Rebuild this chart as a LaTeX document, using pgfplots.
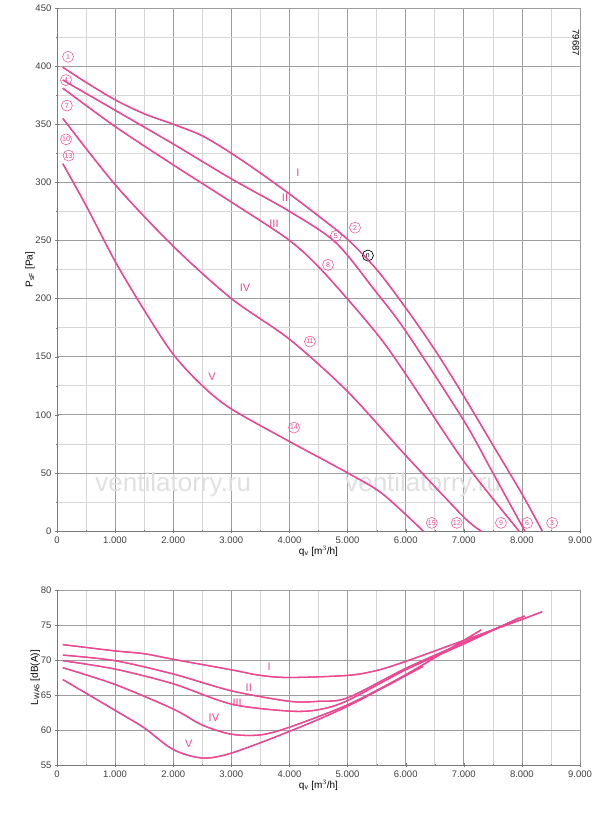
\documentclass[border=0pt]{standalone}
\usepackage{pgfplots}
\pgfplotsset{compat=1.18}
\usepackage{fontspec}
\setmainfont{Liberation Sans}
\definecolor{pk}{RGB}{236,72,145}
\definecolor{gr}{RGB}{175,175,175}
\begin{document}
\begin{tikzpicture}
\useasboundingbox (-57pt,-285pt) rectangle (543pt,531pt);
\pgfplotsset{every axis/.style={scale only axis, width=523pt, xmin=0,xmax=9000,
  axis lines=left, axis line style={-,draw=gr!70!black}, tick style={draw=gr!70!black},
  xtick={0,1000,...,9000}, minor xtick={500,1500,...,8500},
  grid=both, major grid style={gr!90!black,line width=0.7pt}, minor grid style={gr!50,line width=0.6pt},
  /pgf/number format/.cd,1000 sep={.},assume math mode=true,
  },
  every tick label/.style={font=\fontsize{9.5}{10}\selectfont, text=black!75},
  every axis label/.style={font=\fontsize{10}{10}\selectfont}}
\begin{axis}[at={(0pt,0pt)},anchor=south west,height=523pt,ymin=0,ymax=450,
  ytick={0,50,...,450}, minor ytick={25,75,...,425},
  xlabel={q$_\mathrm{v}$ [m$^3$/h]}, ylabel={P$_{\mathrm{sF}}$ [Pa]},
  xlabel style={yshift=4pt}, ylabel style={yshift=-6pt}]
\node[text=black!12,font=\fontsize{26}{26}\selectfont] at (axis cs:2000,40) {ventilatorry.ru};
\node[text=black!12,font=\fontsize{26}{26}\selectfont] at (axis cs:6300,40) {ventilatorry.ru};
\begin{scope}[every plot/.style={pk,line width=1.3pt,smooth,no marks}]
\addplot coordinates {(100,399)(500,386)(1000,371)(1500,359)(2000,350)(2500,340)(3000,325)(3500,308)(4000,290)(4500,271)(5000,251)(5500,225)(6000,192)(6500,156)(7000,116)(7500,74)(8000,32)(8350,0)};
\addplot coordinates {(100,388)(1000,362)(2000,333)(3000,303)(4000,275)(4800,248)(5500,205)(6000,172)(7000,95)(7500,50)(8050,0)};
\addplot coordinates {(100,381)(1000,348)(2000,315)(3000,283)(4000,250)(4600,222)(5500,170)(6000,135)(7000,60)(7950,0)};
\addplot coordinates {(100,355)(1000,298)(2000,245)(3000,200)(4000,165)(5000,120)(6000,65)(7000,12)(7300,0)};
\addplot coordinates {(100,316)(500,280)(1000,232)(1500,190)(2000,152)(2500,125)(3000,105)(4000,77)(5000,50)(5600,32)(6300,0)};
\end{scope}
\begin{scope}[every node/.style={text=pk,font=\fontsize{11}{11}\selectfont}]
\node at (axis cs:4147,308){I};
\node at (axis cs:3924,287){II};
\node at (axis cs:3734,264){III};
\node at (axis cs:3236,209){IV};
\node at (axis cs:2667,133){V};
\end{scope}
\begin{scope}[every node/.style={draw=pk,text=pk,circle,inner sep=0.3pt,minimum size=11pt,line width=0.5pt,font=\fontsize{7}{7}\selectfont}]
\node at (axis cs:190,408){1};
\node at (axis cs:155,388){4};
\node at (axis cs:170,366){7};
\node at (axis cs:155,337){10};
\node at (axis cs:200,323){13};
\node at (axis cs:5128,261){2};
\node at (axis cs:4800,254){5};
\node at (axis cs:4664,229){8};
\node at (axis cs:4353,163){11};
\node at (axis cs:4079,89){14};
\node at (axis cs:6450,7){15};
\node at (axis cs:6880,7){12};
\node at (axis cs:7640,7){9};
\node at (axis cs:8090,7){6};
\node at (axis cs:8520,7){3};
\node[draw=black,text=black,line width=0.7pt] at (axis cs:5350,237){n};
\end{scope}
\node[rotate=-90,font=\fontsize{9.5}{9}\selectfont] at (axis cs:8930,420){79687};
\end{axis}
\begin{axis}[at={(0pt,-234pt)},anchor=south west,height=175pt,ymin=55,ymax=80,
  ytick={55,60,...,80}, minor ytick={},
  xlabel={q$_\mathrm{v}$ [m$^3$/h]}, ylabel={L$_{\mathrm{WA5}}$ [dB(A)]},
  xlabel style={yshift=4pt}, ylabel style={yshift=-6pt}]
\begin{scope}[every plot/.style={pk,line width=1.3pt,smooth,no marks}]
\addplot coordinates {(100,72.2)(1000,71.3)(1500,70.9)(2000,70.1)(3000,68.6)(3500,67.8)(4000,67.5)(5000,67.8)(5500,68.5)(6000,69.8)(7000,72.8)(8000,75.8)(8350,76.9)};
\addplot coordinates {(100,70.7)(1000,69.9)(2000,68.0)(3000,65.6)(4000,64.1)(4500,64.1)(5000,64.6)(6000,68.8)(7000,72.5)(8050,76.3)};
\addplot coordinates {(100,69.9)(1000,68.7)(2000,66.6)(3000,63.7)(4000,62.7)(4500,62.9)(5000,64.2)(6000,68.6)(7000,72.3)(7950,76.0)};
\addplot coordinates {(100,68.9)(1000,66.5)(2000,63.0)(2500,60.7)(3000,59.4)(3500,59.3)(4000,60.4)(5000,63.6)(6000,67.9)(7300,74.3)};
\addplot coordinates {(100,67.2)(1000,62.8)(1500,60.3)(2000,57.2)(2500,56.0)(3000,56.7)(4000,59.8)(5000,63.4)(6300,69.1)};
\end{scope}
\begin{scope}[every node/.style={text=pk,font=\fontsize{11}{11}\selectfont}]
\node at (axis cs:3650,69.1){I};
\node at (axis cs:3300,66.1){II};
\node at (axis cs:3100,63.9){III};
\node at (axis cs:2700,61.7){IV};
\node at (axis cs:2270,58.0){V};
\end{scope}
\end{axis}
\end{tikzpicture}
\end{document}
